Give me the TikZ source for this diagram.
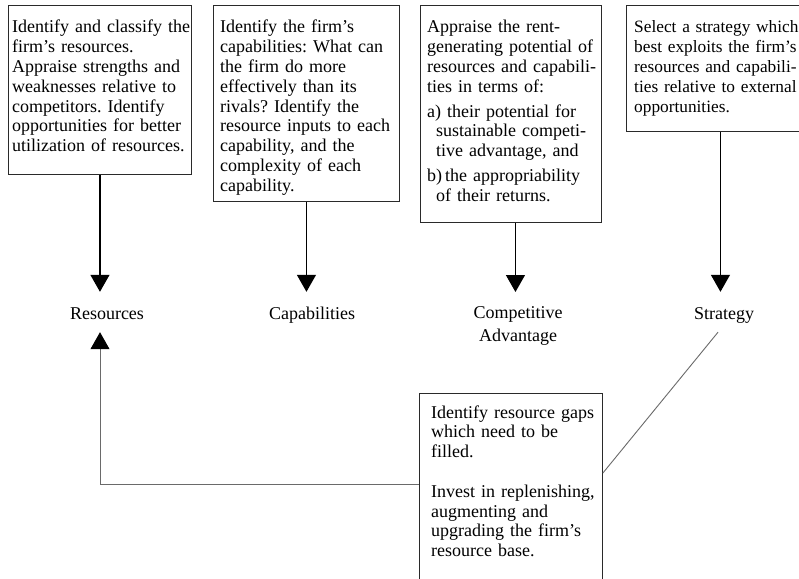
\documentclass[tikz,border=0pt]{standalone}
\usepackage{fontspec}
\setmainfont{Liberation Serif}
\usetikzlibrary{arrows.meta,calc}
\definecolor{boxgray}{HTML}{2A2A2A}
\definecolor{fbgray}{HTML}{6A6A6A}
\frenchspacing
\begin{document}
\begin{tikzpicture}[x=1pt,y=-1pt,
  every node/.style={font=\fontsize{18}{19.8}\selectfont\frenchspacing},
  stepbox/.style={draw=boxgray, line width=0.9pt, inner sep=0pt, anchor=north west},
  txt/.style={inner sep=0pt, text width=190pt, align=left, anchor=base west},
  lbl/.style={inner xsep=0pt, inner ysep=13pt, text height=14pt, text depth=0pt, anchor=base},
  arr/.style={line width=1.3pt, -{Triangle[width=19pt,length=17pt]}},
  fb/.style={draw=fbgray, line width=0.9pt}]
\useasboundingbox (0,0) rectangle (799,578);
\fill[white] (0,0) rectangle (799,578);
\clip (0,0) rectangle (799,578);

% boxes
\node[stepbox, minimum width=183pt, minimum height=169pt] (b1) at (8,5) {};
\node[stepbox, minimum width=186pt, minimum height=196pt] (b2) at (213,5) {};
\node[stepbox, minimum width=181pt, minimum height=217pt] (b3) at (420,5) {};
\node[stepbox, minimum width=188pt, minimum height=126pt] (b4) at (626,5) {};
\node[stepbox, minimum width=183pt, minimum height=217pt] (b5) at (419,393) {};

% box texts
\node[txt] (t1) at (12,33) {Identify and classify the\\firm's resources.\\Appraise strengths and\\weaknesses relative to\\competitors. Identify\\opportunities for better\\utilization of resources.};
\node[txt] (t2) at (220,33) {Identify the firm's\\capabilities: What can\\the firm do more\\effectively than its\\rivals? Identify the\\resource inputs to each\\capability, and the\\complexity of each\\capability.};
\node[txt] (t3) at (427,33) {Appraise the rent-\\generating potential of\\resources and capabili-\\ties in terms of:\\[5pt]a) their potential for\\\hspace*{9pt}sustainable competi-\\\hspace*{9pt}tive advantage, and\\[5pt]b)\,the appropriability\\\hspace*{9pt}of their returns.};
\node[txt, font=\fontsize{17.3}{19.8}\selectfont\frenchspacing] (t4) at (634,33) {Select a strategy which\\best exploits the firm's\\resources and capabili-\\ties relative to external\\opportunities.};
\node[txt] (t5) at (431,418) {Identify resource gaps\\which need to be\\filled.\\[19.8pt]Invest in replenishing,\\augmenting and\\upgrading the firm's\\resource base.};

% labels
\node[lbl] (res) at (107,319) {Resources};
\node[lbl] (cap) at (312,319) {Capabilities};
\node[inner xsep=0pt, inner ysep=14pt, align=center, anchor=north, font=\fontsize{18}{23.7}\selectfont] (comp) at (518,292) {Competitive\\Advantage};
\node[lbl] (strat) at (724,319) {Strategy};

% arrows
\draw[arr] (b1.south) -- (b1.south |- res.north);
\draw[arr] (b2.south) -- (b2.south |- cap.north);
\draw[arr] ([xshift=4.5pt]b3.south) -- ([xshift=4.5pt]b3.south |- comp.north);
\draw[arr] (b4.south) -- (b4.south |- strat.north);

% feedback
\draw[fb, -{Triangle[width=19pt,length=17pt,color=black]}] ([yshift=-91pt]b5.north west) -| ([xshift=-7pt]res.south);
\draw[fb] ([yshift=-80pt]b5.north east) -- ([xshift=-6pt]strat.south);
\end{tikzpicture}
\end{document}
